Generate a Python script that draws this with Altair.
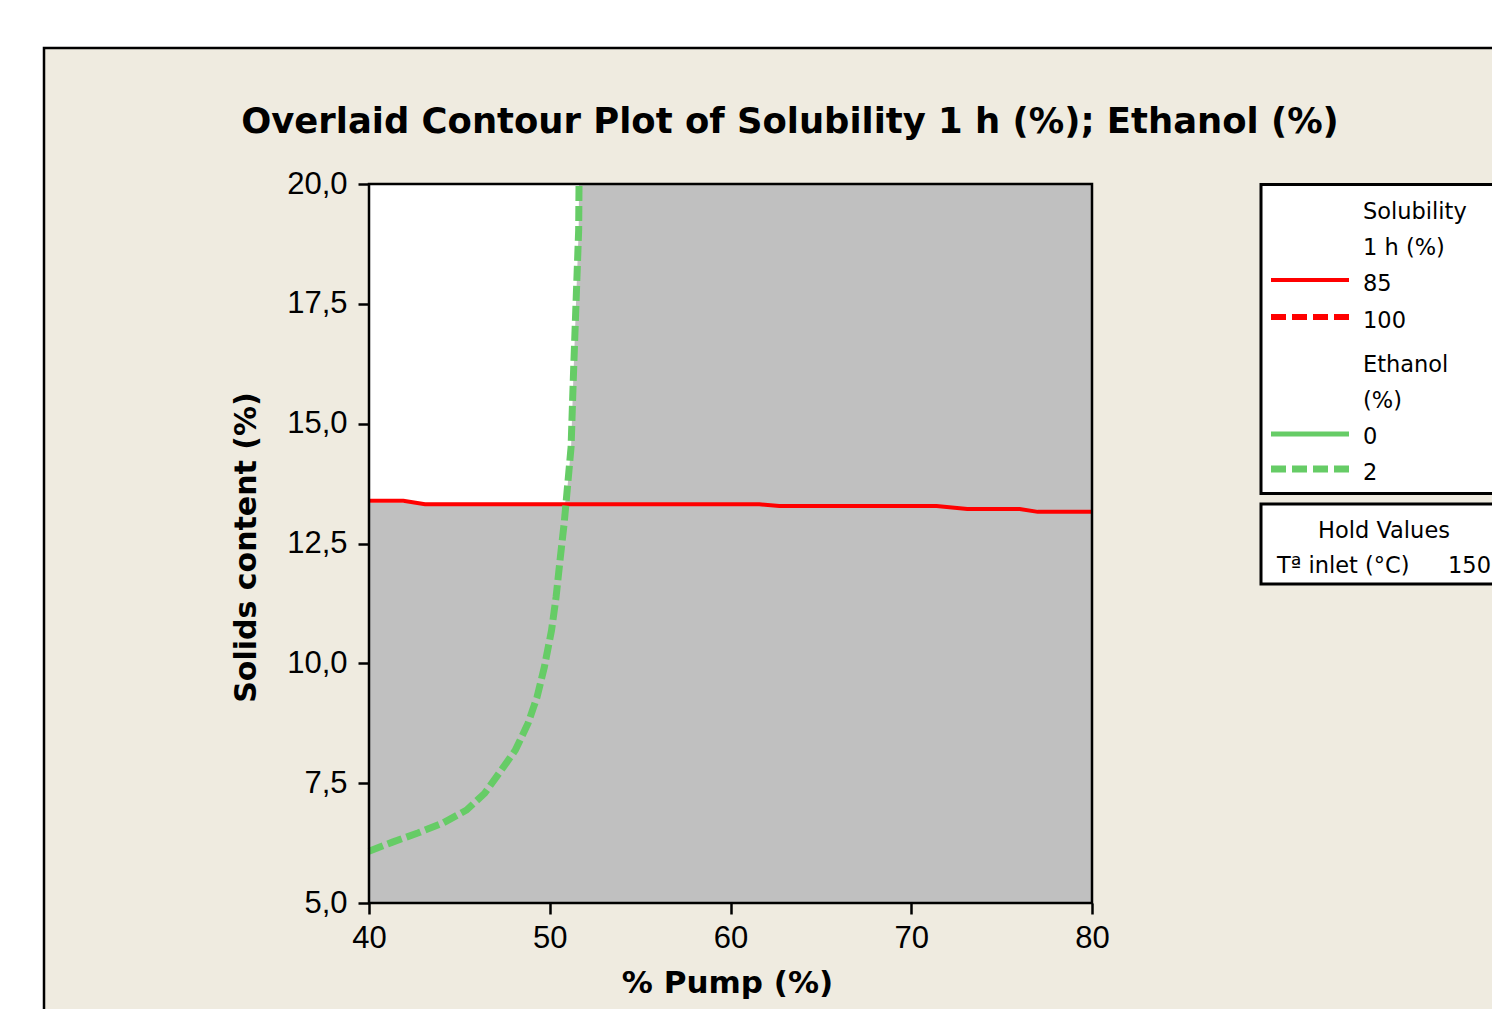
import altair as alt
import pandas as pd

# ---------------- data ----------------
# Ethanol (%) = 2 contour (green, dashed)
green_x = [40.0, 41.3, 42.7, 44.1, 45.4, 46.4, 47.2, 48.1, 48.8, 49.3, 49.7,
           50.1, 50.35, 50.57, 50.8, 50.95, 51.18, 51.3, 51.4, 51.5, 51.6, 51.62]
green_y = [6.08, 6.27, 6.46, 6.67, 6.94, 7.29, 7.71, 8.19, 8.75, 9.30, 9.92,
           10.69, 11.38, 12.16, 12.93, 13.55, 14.51, 15.9, 16.95, 18.0, 19.04, 20.0]
# Solubility 1 h (%) = 85 contour (red, solid)
red_x = [40.0, 41.9, 43.1, 61.6, 62.7, 71.4, 73.1, 76.0, 77.0, 80.0]
red_y = [13.39, 13.39, 13.32, 13.32, 13.28, 13.28, 13.22, 13.22, 13.16, 13.16]
# feasible (white) region: right boundary, from the intersection upward
white_x = [50.85, 50.95, 51.18, 51.3, 51.4, 51.5, 51.6, 51.62]
white_y = [13.35, 13.55, 14.51, 15.9, 16.95, 18.0, 19.04, 20.0]

x_domain = [40, 80]
y_domain = [5, 20]
x_ticks = [40, 50, 60, 70, 80]
y_ticks = [5.0, 7.5, 10.0, 12.5, 15.0, 17.5, 20.0]

title_text = "Overlaid Contour Plot of Solubility 1 h (%); Ethanol (%)"
x_title = "% Pump (%)"
y_title = "Solids content  (%)"
legend_sol_title = ["Solubility", "1 h (%)"]
legend_sol_levels = ["85", "100"]
legend_eth_title = ["Ethanol", "(%)"]
legend_eth_levels = ["0", "2"]
hold_title = "Hold Values"
hold_name = "T\u00aa inlet (\u00b0C)"
hold_value = "150"

# ---------------- styles ----------------
BEIGE = "#efebe0"
GRAY = "#c0c0c0"
RED = "#ff0000"
GREEN = "#66cc66"
REG = "Liberation Sans"
LEG = "DejaVu Sans"
BOLD = "DejaVu Sans"

W, H = 723, 719

green_df = pd.DataFrame({"x": green_x, "y": green_y, "i": range(len(green_x))})
red_df = pd.DataFrame({"x": red_x, "y": red_y, "i": range(len(red_x))})
white_df = pd.DataFrame({"x": white_x, "y": white_y, "x0": [x_domain[0]] * len(white_x)})
box_df = pd.DataFrame({"x": [x_domain[0]], "x2": [x_domain[1]],
                       "y": [y_domain[0]], "y2": [y_domain[1]]})
one = pd.DataFrame({"k": [0]})

x_axis = alt.Axis(values=x_ticks, format="d", title=x_title, grid=False, domain=False,
                  tickSize=11, tickWidth=2.5, tickColor="black", labelFlush=False,
                  labelFont=REG, labelFontSize=31, labelColor="black", labelPadding=9,
                  titleFont=BOLD, titleFontSize=31, titleFontWeight="bold", titleColor="black",
                  titleX=358, titleY=89, titleBaseline="alphabetic", titleAlign="center",
                  zindex=1)
y_axis = alt.Axis(values=y_ticks, labelExpr="replace(format(datum.value, '.1f'), '.', ',')",
                  title=y_title, grid=False, domain=False, labelFlush=False,
                  tickSize=11, tickWidth=2.5, tickColor="black",
                  labelFont=REG, labelFontSize=31, labelColor="black", labelPadding=11,
                  titleFont=BOLD, titleFontSize=30, titleFontWeight="bold", titleColor="black",
                  titleX=-114, titleY=363, titleAngle=-90, titleBaseline="alphabetic",
                  titleAlign="center", zindex=1)
xs = alt.Scale(domain=x_domain, nice=False, zero=False)
ys = alt.Scale(domain=y_domain, nice=False, zero=False)


def X(field):
    return alt.X(field, type="quantitative", scale=xs, axis=x_axis)


def Y(field):
    return alt.Y(field, type="quantitative", scale=ys, axis=y_axis)


def txt(s, x, y, size, font=LEG, bold=False, align="left"):
    return alt.Chart(one).mark_text(
        text=s, align=align, baseline="alphabetic", font=font, fontSize=size,
        fontWeight="bold" if bold else "normal", color="black"
    ).encode(x=alt.value(x), y=alt.value(y))


def box(x1, x2, y1, y2, fill, sw):
    return alt.Chart(one).mark_rect(fill=fill, stroke="black", strokeWidth=sw).encode(
        x=alt.value(x1), x2=alt.value(x2), y=alt.value(y1), y2=alt.value(y2))


def sample(y, color, width, dash=None):
    kw = dict(color=color, strokeWidth=width, strokeCap="butt")
    if dash:
        kw["strokeDash"] = dash
    return alt.Chart(one).mark_rule(**kw).encode(
        x=alt.value(LX + 10), x2=alt.value(LX + 88), y=alt.value(y))


# outer beige frame
frame = box(-325, 1160, -136, 900, BEIGE, 2.5)

gray = alt.Chart(box_df).mark_rect(color=GRAY).encode(
    x=X("x"), x2="x2", y=Y("y"), y2="y2")

white = alt.Chart(white_df).mark_area(orient="horizontal", color="white", opacity=1).encode(
    y=Y("y"), x=X("x"), x2="x0")

red = alt.Chart(red_df).mark_line(color=RED, strokeWidth=4).encode(
    x=X("x"), y=Y("y"), order="i:Q")

green = alt.Chart(green_df).mark_line(color=GREEN, strokeWidth=7, strokeDash=[15, 5],
                                      strokeCap="butt").encode(
    x=X("x"), y=Y("y"), order="i:Q")

border = alt.Chart(box_df).mark_rect(fillOpacity=0, stroke="black", strokeWidth=2.5).encode(
    x=X("x"), x2="x2", y=Y("y"), y2="y2")

title = txt(title_text, 421, -51, 35.4, font=BOLD, bold=True, align="center")

# legend (drawn by hand, Minitab style) -- positions in px relative to plot origin
LX = 892
TX = 994
FS = 22.5
legend_layers = [
    box(LX, 1160, 0.5, 309.5, "white", 3),
    box(LX, 1160, 320, 400, "white", 3),
    sample(96, RED, 4),
    sample(133, RED, 6, [15, 6]),
    sample(250, GREEN, 5),
    sample(285, GREEN, 7, [15, 6]),
    txt(legend_sol_title[0], TX, 35, FS),
    txt(legend_sol_title[1], TX, 71, FS),
    txt(legend_sol_levels[0], TX, 107, FS),
    txt(legend_sol_levels[1], TX, 144, FS),
    txt(legend_eth_title[0], TX, 188, FS),
    txt(legend_eth_title[1], TX, 224, FS),
    txt(legend_eth_levels[0], TX, 260, FS),
    txt(legend_eth_levels[1], TX, 296, FS),
    txt(hold_title, 1015, 354, FS, align="center"),
    txt(hold_name, 908, 389, FS),
    txt(hold_value, 1079, 389, FS),
]

chart = alt.layer(
    frame, gray, white, red, green, border, title, *legend_layers
).properties(
    width=W, height=H,
    autosize=alt.AutoSizeParams(type="none"),
    padding={"left": 361, "top": 176, "right": 400, "bottom": 106},
    background="white",
).configure_view(stroke="transparent")

chart.save("out.html", embed_options={"renderer": "svg", "actions": False})
